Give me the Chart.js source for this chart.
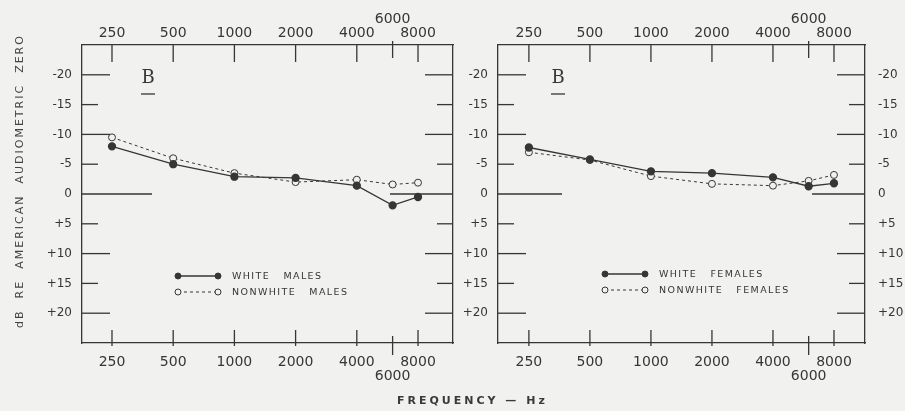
<!DOCTYPE html>
<html>
<head>
<meta charset="utf-8">
<script src="https://cdn.jsdelivr.net/npm/chart.js@4.4.1/dist/chart.umd.min.js"></script>
<style>
  body { margin: 0; width: 905px; height: 411px; overflow: hidden; position: relative; background: #f1f1ef; }
  canvas { position: absolute; top: 0; }
  #males { left: 0; }
  #females { left: 460px; }
  #xtitle {
    position: absolute; left: 397px; top: 394px;
    font: bold 11px "DejaVu Sans", sans-serif; letter-spacing: 3px; color: #3a3a3a;
    white-space: nowrap;
  }
</style>
</head>
<body>
<canvas id="males" width="460" height="411"></canvas>
<canvas id="females" width="445" height="411"></canvas>
<div id="xtitle">FREQUENCY — Hz</div>
<script>
// frequencies (Hz) and their tick labels
const frequencies = [250, 500, 1000, 2000, 4000, 6000, 8000];
const freqLabels = ["250", "500", "1000", "2000", "4000", "6000", "8000"];
// hearing level ticks (dB re American audiometric zero)
const levelTicks = [-20, -15, -10, -5, 0, 5, 10, 15, 20];

const whiteMales = [-8, -5, -2.9, -2.7, -1.4, 1.9, 0.5];
const nonwhiteMales = [-9.5, -6, -3.5, -2, -2.4, -1.6, -1.9];
const whiteFemales = [-7.8, -5.8, -3.8, -3.5, -2.8, -1.3, -1.8];
const nonwhiteFemales = [-7, -5.7, -3, -1.7, -1.4, -2.2, -3.2];

const maleLabels = ["WHITE MALES", "NONWHITE MALES"];
const femaleLabels = ["WHITE FEMALES", "NONWHITE FEMALES"];
const panelLetter = "B";
const yTitle = "dB RE AMERICAN AUDIOMETRIC ZERO";

const INK = "#363636";
const PAPER = "#f1f1ef";
const FONT = '"DejaVu Sans", sans-serif';

function levelLabel(v) {
  return v > 0 ? "+" + v : String(v);
}

function freqLabel(v, where) {
  const i = frequencies.indexOf(v);
  const txt = i >= 0 ? freqLabels[i] : "";
  // 6000 sits off the row, away from the axis
  if (v === 6000) return where === "top" ? [txt, ""] : ["", txt];
  return txt;
}

// tick marks, panel letter, legend and y title
const paperDecor = {
  id: "paperDecor",
  afterDraw(chart, args, opts) {
    const { ctx, chartArea: a, scales } = chart;
    const line = (x1, y1, x2, y2) => {
      ctx.beginPath(); ctx.moveTo(x1, y1); ctx.lineTo(x2, y2); ctx.stroke();
    };
    ctx.save();
    ctx.strokeStyle = INK;
    ctx.lineWidth = 1.3;

    // frequency ticks cross the top and bottom frame
    frequencies.forEach(f => {
      const px = scales.x.getPixelForValue(f);
      const odd = f === 6000;
      line(px, a.top - (odd ? 4 : 1), px, a.top + (odd ? 13 : 17));
      line(px, a.bottom - (odd ? 7 : 13), px, a.bottom + (odd ? 12 : 3));
    });

    // level ticks point inward from both sides
    levelTicks.forEach(v => {
      const py = scales.y.getPixelForValue(v);
      const len = v % 10 === 0 ? 28 : 16;
      line(a.left, py, a.left + (v === 0 ? opts.zeroLeft : len), py);
      line(a.right - (v === 0 ? opts.zeroRight : len), py, a.right, py);
    });

    // panel letter
    const bx = a.left + opts.letterX, by = a.top + 33;
    ctx.fillStyle = INK;
    ctx.font = '18px "DejaVu Serif", serif';
    ctx.textAlign = "center";
    ctx.textBaseline = "middle";
    ctx.fillText(panelLetter, bx, by);
    line(bx - 7, by + 16, bx + 7, by + 16);

    // legend
    ctx.font = "9.5px " + FONT;
    ctx.letterSpacing = "1.4px";
    ctx.textAlign = "left";
    chart.data.datasets.forEach((ds, i) => {
      const x0 = a.left + opts.legendX, y = a.top + opts.legendY + i * 16;
      ctx.save();
      ctx.strokeStyle = ds.borderColor;
      ctx.lineWidth = ds.borderWidth;
      ctx.setLineDash(ds.borderDash || []);
      line(x0, y, x0 + 40, y);
      ctx.restore();
      [x0, x0 + 40].forEach(cx => {
        ctx.beginPath();
        ctx.arc(cx, y, 3, 0, Math.PI * 2);
        ctx.fillStyle = ds.pointBackgroundColor;
        ctx.fill();
        ctx.lineWidth = 1;
        ctx.stroke();
      });
      ctx.fillStyle = INK;
      ctx.fillText(ds.label.replace(/ /g, "   "), x0 + 54, y + 1);
    });

    // y axis title
    if (opts.yTitle) {
      ctx.save();
      ctx.translate(20, 181);
      ctx.rotate(-Math.PI / 2);
      ctx.font = "11px " + FONT;
      ctx.letterSpacing = "2px";
      ctx.textAlign = "center";
      ctx.fillStyle = "#444";
      ctx.fillText(yTitle.replace(/ /g, "  "), 0, 0);
      ctx.restore();
    }
    ctx.restore();
  }
};

function freqAxis(position, cfg, padding, height) {
  return {
    type: "logarithmic",
    position: position,
    min: cfg.xMin,
    max: cfg.xMax,
    grid: { display: false, drawTicks: false },
    border: { display: true, color: INK, width: 1.3 },
    afterBuildTicks: s => { s.ticks = frequencies.map(v => ({ value: v })); },
    afterFit: s => { s.height = height; },
    ticks: {
      padding: padding,
      color: INK,
      autoSkip: false,
      maxRotation: 0,
      font: { family: FONT, size: 14, lineHeight: 1 },
      callback: v => freqLabel(v, position)
    }
  };
}

function levelAxis(position, width, showLabels, padding) {
  return {
    type: "linear",
    position: position,
    min: -25,
    max: 25,
    reverse: true,
    grid: { display: false, drawTicks: false },
    border: { display: true, color: INK, width: 1.3 },
    afterBuildTicks: s => { s.ticks = levelTicks.map(v => ({ value: v })); },
    afterFit: s => { s.width = width; },
    ticks: {
      display: showLabels,
      padding: padding,
      color: INK,
      font: { family: FONT, size: 12 },
      callback: v => levelLabel(v)
    }
  };
}

function makePanel(canvasId, labels, white, nonwhite, cfg) {
  const ctx = document.getElementById(canvasId).getContext("2d");
  return new Chart(ctx, {
    type: "line",
    data: {
      datasets: [
        {
          label: labels[0],
          data: frequencies.map((f, i) => ({ x: f, y: white[i] })),
          borderColor: INK,
          borderWidth: 1.3,
          pointRadius: 3.5,
          pointBackgroundColor: INK,
          pointBorderColor: INK,
          tension: 0
        },
        {
          label: labels[1],
          data: frequencies.map((f, i) => ({ x: f, y: nonwhite[i] })),
          borderColor: INK,
          borderWidth: 1,
          borderDash: [3, 3],
          pointRadius: 3.5,
          pointBackgroundColor: PAPER,
          pointBorderColor: INK,
          pointBorderWidth: 1,
          tension: 0
        }
      ]
    },
    options: {
      responsive: false,
      animation: false,
      layout: { padding: 0, autoPadding: false },
      plugins: {
        legend: { display: false },
        tooltip: { enabled: false },
        paperDecor: cfg.decor
      },
      scales: {
        x: freqAxis("bottom", cfg, 12, 68),
        x2: freqAxis("top", cfg, 5, 45),
        y: levelAxis("left", cfg.leftWidth, true, 10),
        y2: levelAxis("right", cfg.rightWidth, cfg.rightLabels, 13)
      }
    },
    plugins: [paperDecor]
  });
}

makePanel("males", maleLabels, whiteMales, nonwhiteMales, {
  xMin: 178, xMax: 11890, leftWidth: 82, rightWidth: 7, rightLabels: false,
  decor: { zeroLeft: 70, zeroRight: 63, letterX: 66, legendX: 96, legendY: 231, yTitle: true }
});

makePanel("females", femaleLabels, whiteFemales, nonwhiteFemales, {
  xMin: 176, xMax: 11380, leftWidth: 38, rightWidth: 40, rightLabels: true,
  decor: { zeroLeft: 64, zeroRight: 53, letterX: 60, legendX: 107, legendY: 229, yTitle: false }
});
</script>
</body>
</html>
